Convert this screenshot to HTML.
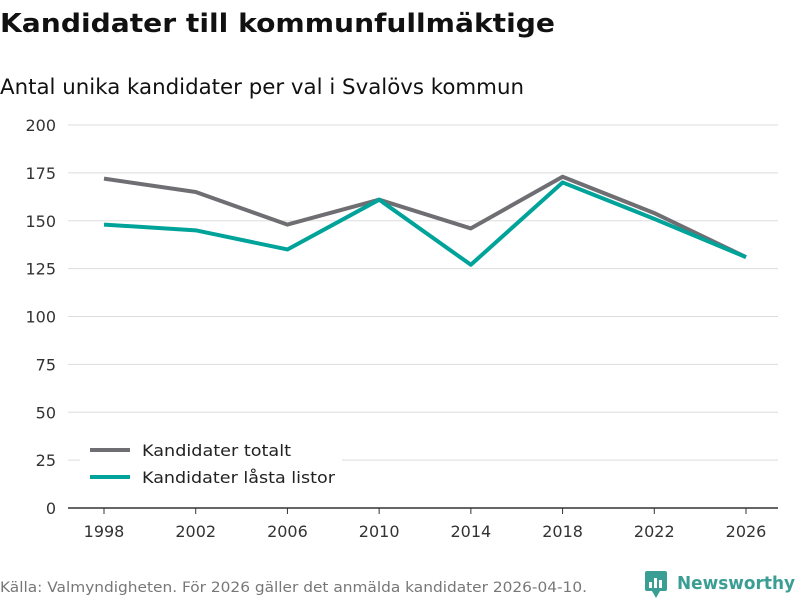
<!DOCTYPE html>
<html><head><meta charset="utf-8"><style>
body{margin:0;width:800px;height:600px;background:#fff;font-family:"DejaVu Sans","Liberation Sans",sans-serif;overflow:hidden}
svg{display:block}
</style></head><body>
<svg id="c" width="800" height="600" xmlns="http://www.w3.org/2000/svg">
<text x="0" y="32" font-size="26" font-weight="bold" fill="#111" textLength="555" lengthAdjust="spacingAndGlyphs">Kandidater till kommunfullmäktige</text>
<text x="0" y="94" font-size="21" fill="#111" textLength="524" lengthAdjust="spacingAndGlyphs">Antal unika kandidater per val i Svalövs kommun</text>
<g id="grid"></g><g id="lines"></g>
<g>
<rect x="80" y="436" width="262" height="58" fill="#fff"/>
<line x1="90" y1="450" x2="130" y2="450" stroke="#6f6e73" stroke-width="4"/>
<text x="142" y="456" font-size="16" fill="#222" textLength="149" lengthAdjust="spacingAndGlyphs">Kandidater totalt</text>
<line x1="90" y1="477" x2="130" y2="477" stroke="#00a39a" stroke-width="4"/>
<text x="142" y="483" font-size="16" fill="#222" textLength="193" lengthAdjust="spacingAndGlyphs">Kandidater låsta listor</text>
</g>
<text x="0" y="592" font-size="14" fill="#777" textLength="587" lengthAdjust="spacingAndGlyphs">Källa: Valmyndigheten. För 2026 gäller det anmälda kandidater 2026-04-10.</text>
<g>
<rect x="645" y="571" width="22" height="20" rx="2" fill="#3a9e95"/>
<path d="M652 591 L656 598 L660 591Z" fill="#3a9e95"/>
<rect x="649" y="582" width="3" height="6" fill="#fff"/><rect x="654" y="578" width="3" height="10" fill="#fff"/><rect x="659" y="580" width="3" height="8" fill="#fff"/>
<text x="677" y="589" font-size="18" font-weight="bold" fill="#3a9e95" textLength="118" lengthAdjust="spacingAndGlyphs">Newsworthy</text>
</g>
</svg>
<script>
const years=[1998,2002,2006,2010,2014,2018,2022,2026];
const totalt=[172,165,148,161,146,173,154,131];
const lasta=[148,145,135,161,127,170,151,131];
const yTicks=[0,25,50,75,100,125,150,175,200];
const NS="http://www.w3.org/2000/svg";
const X=y=>104+(y-1998)/(2026-1998)*(746-104);
const Y=v=>508-v/200*(508-125);
const g=document.getElementById('grid');
yTicks.forEach(t=>{
 const l=document.createElementNS(NS,'line');
 l.setAttribute('x1',68);l.setAttribute('x2',778);l.setAttribute('y1',Y(t));l.setAttribute('y2',Y(t));
 l.setAttribute('stroke',t===0?'#333':'#ddd');l.setAttribute('stroke-width',t===0?1.5:1);
 
 
 g.appendChild(l);
 const tx=document.createElementNS(NS,'text');
 tx.setAttribute('x',56);tx.setAttribute('y',Y(t)+6);tx.setAttribute('text-anchor','end');tx.setAttribute('font-size','16');tx.setAttribute('fill','#333');
 tx.textContent=t;
 
 
 g.appendChild(tx);
});
years.forEach(y=>{
 const l=document.createElementNS(NS,'line');
 l.setAttribute('x1',X(y));l.setAttribute('x2',X(y));l.setAttribute('y1',508);l.setAttribute('y2',514);l.setAttribute('stroke','#333');
 
 
 g.appendChild(l);
 const tx=document.createElementNS(NS,'text');
 tx.setAttribute('x',X(y));tx.setAttribute('y',537);tx.setAttribute('text-anchor','middle');tx.setAttribute('font-size','16');tx.setAttribute('fill','#333');
 tx.textContent=y;
 
 
 g.appendChild(tx);
});
const lg=document.getElementById('lines');
[[totalt,'#6f6e73','line-totalt'],[lasta,'#00a39a','line-lasta']].forEach(([d,c,n])=>{
 const p=document.createElementNS(NS,'polyline');
 p.setAttribute('points',d.map((v,i)=>X(years[i])+','+Y(v)).join(' '));
 p.setAttribute('fill','none');p.setAttribute('stroke',c);p.setAttribute('stroke-width','4');p.setAttribute('stroke-linejoin','round');
 
 
 lg.appendChild(p);
});
</script>
</body></html>
